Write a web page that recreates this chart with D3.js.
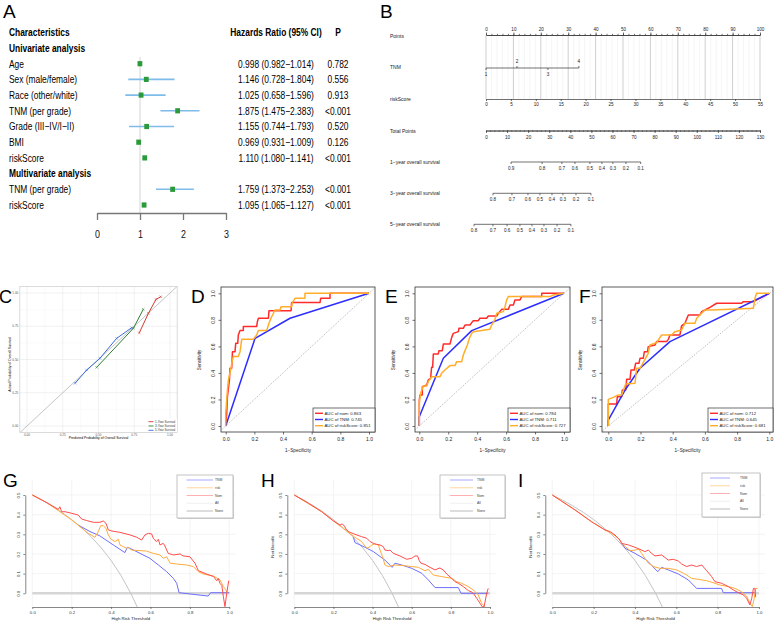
<!DOCTYPE html>
<html><head><meta charset="utf-8">
<script src="https://cdn.jsdelivr.net/npm/d3@7/dist/d3.min.js"></script>
<style>html,body{margin:0;padding:0;background:#fff;}</style>
</head><body>
<svg id="chart" width="777" height="621" xmlns="http://www.w3.org/2000/svg"></svg>
<script>
// ================= DATA =================
// Panel A: forest plot
const forestSections = ["Univariate analysis", "Multivariate analysis"];
const forestRows = ["Age","Sex (male/female)","Race (other/white)","TNM (per grade)","Grade (III\u2212IV/I\u2212II)","BMI","riskScore","TNM (per grade)","riskScore"];
const forestHR = [0.998,1.146,1.025,1.875,1.155,0.969,1.110,1.759,1.095];
const forestLo = [0.982,0.728,0.658,1.475,0.744,0.931,1.080,1.373,1.065];
const forestHi = [1.014,1.804,1.596,2.383,1.793,1.009,1.141,2.253,1.127];
const forestP = ["0.782","0.556","0.913","<0.001","0.520","0.126","<0.001","<0.001","<0.001"];
const forestTicks = [0,1,2,3];

// Panel B: nomogram
const nomoRows = ["Points","TNM","riskScore","Total Points","1\u2212year overall survival","3\u2212year overall survival","5\u2212year overall survival"];
const pointsTicks = d3.range(0,101,10);
const tnmLevels = ["1","2","3","4"];
const tnmPoints = [0,11.3,22.6,33.9];
const riskScoreTicks = d3.range(0,56,5);
const totalTicks = d3.range(0,131,10);
const surv1Labels = ["0.9","0.8","0.7","0.6","0.5","0.4","0.3","0.2","0.1"];
const surv1Total  = [11.9,26.6,36.0,42.2,49.3,55.0,60.2,66.4,73.4];
const surv3Labels = ["0.8","0.7","0.6","0.5","0.4","0.3","0.2","0.1"];
const surv3Total  = [3.3,12.3,19.9,25.6,31.3,36.5,42.7,49.8];
const surv5Labels = ["0.8","0.7","0.6","0.5","0.4","0.3","0.2","0.1"];
const surv5Total  = [-5.7,3.3,10.0,16.1,21.8,27.5,33.7,40.3];

// Panel C: calibration
const calTicks = [0,0.25,0.5,0.75,1];
const cal1Pred = [0.785,0.849,0.902,0.935], cal1Obs = [0.700,0.847,0.952,0.972];
const cal3Pred = [0.487,0.744,0.813],       cal3Obs = [0.441,0.735,0.877];
const cal5Pred = [0.336,0.417,0.510,0.627,0.732], cal5Obs = [0.321,0.421,0.509,0.659,0.739];
const calLegend = ["1-Year Survival","3-Year Survival","5-Year Survival"];

// Panels D-F: ROC curves [1-specificity, sensitivity]
const rocTicks = [0,0.2,0.4,0.6,0.8,1.0];
const rocD_nom = [[0,0],[0.007,0.095],[0.012,0.221],[0.019,0.284],[0.026,0.347],[0.030,0.435],[0.042,0.435],[0.047,0.560],[0.065,0.560],[0.070,0.623],[0.084,0.623],[0.088,0.686],[0.100,0.719],[0.123,0.719],[0.123,0.749],[0.216,0.749],[0.221,0.786],[0.228,0.812],[0.298,0.812],[0.302,0.869],[0.456,0.869],[0.460,0.930],[0.658,0.930],[0.663,0.962],[0.728,0.962],[0.728,1],[1,1]];
const rocD_tnm = [[0,0],[0.205,0.661],[0.449,0.812],[1,1]];
const rocD_risk = [[0,0],[0,0.095],[0.007,0.196],[0.012,0.271],[0.019,0.347],[0.037,0.435],[0.042,0.472],[0.053,0.523],[0.088,0.523],[0.100,0.560],[0.112,0.653],[0.193,0.653],[0.216,0.686],[0.228,0.719],[0.286,0.719],[0.302,0.774],[0.316,0.812],[0.344,0.874],[0.379,0.874],[0.386,0.899],[0.460,0.899],[0.465,0.930],[0.484,0.962],[0.553,0.962],[0.553,1],[1,1]];
const rocE_nom = [[0,0],[0,0.196],[0.005,0.234],[0.021,0.234],[0.021,0.296],[0.051,0.309],[0.062,0.347],[0.078,0.359],[0.085,0.442],[0.092,0.442],[0.097,0.543],[0.131,0.543],[0.136,0.568],[0.159,0.568],[0.166,0.618],[0.212,0.618],[0.224,0.668],[0.235,0.698],[0.270,0.711],[0.274,0.736],[0.304,0.736],[0.316,0.761],[0.350,0.761],[0.373,0.794],[0.408,0.794],[0.419,0.812],[0.465,0.812],[0.477,0.829],[0.535,0.829],[0.546,0.849],[0.569,0.879],[0.615,0.879],[0.627,0.912],[0.650,0.912],[0.661,0.950],[0.696,0.950],[0.707,0.975],[0.846,0.975],[0.846,1],[1,1]];
const rocE_tnm = [[0,0],[0,0.07],[0.166,0.510],[0.362,0.719],[1,1]];
const rocE_risk = [[0,0],[0,0.171],[0.009,0.246],[0.028,0.302],[0.051,0.302],[0.062,0.334],[0.085,0.372],[0.143,0.372],[0.154,0.397],[0.177,0.422],[0.212,0.455],[0.247,0.455],[0.258,0.485],[0.293,0.485],[0.304,0.535],[0.316,0.568],[0.332,0.611],[0.346,0.661],[0.362,0.698],[0.373,0.711],[0.488,0.729],[0.500,0.761],[0.523,0.804],[0.535,0.849],[0.581,0.862],[0.592,0.899],[0.604,0.950],[0.615,0.975],[0.903,0.975],[0.926,0.987],[1,1]];
const rocF_nom = [[0,0],[0,0.166],[0.052,0.166],[0.056,0.221],[0.083,0.221],[0.087,0.271],[0.108,0.271],[0.114,0.352],[0.135,0.352],[0.141,0.422],[0.161,0.422],[0.170,0.472],[0.190,0.472],[0.197,0.510],[0.217,0.510],[0.224,0.560],[0.244,0.560],[0.248,0.598],[0.290,0.611],[0.300,0.636],[0.362,0.636],[0.373,0.653],[0.383,0.686],[0.445,0.686],[0.455,0.754],[0.476,0.774],[0.497,0.837],[0.569,0.837],[0.580,0.862],[0.600,0.874],[0.631,0.894],[0.673,0.925],[0.828,0.925],[0.839,0.937],[0.901,0.937],[1,1]];
const rocF_tnm = [[0,0],[0,0.045],[0.104,0.271],[0.197,0.435],[0.383,0.636],[1,1]];
const rocF_risk = [[0,0],[0,0.201],[0.031,0.216],[0.062,0.234],[0.083,0.234],[0.108,0.317],[0.166,0.322],[0.176,0.435],[0.197,0.435],[0.248,0.548],[0.259,0.611],[0.300,0.628],[0.331,0.686],[0.393,0.686],[0.414,0.711],[0.455,0.724],[0.476,0.774],[0.538,0.774],[0.549,0.812],[0.569,0.837],[0.600,0.874],[0.642,0.874],[0.901,0.887],[0.911,0.962],[0.921,1],[1,1]];
const aucD = ["0.863","0.745","0.851"];
const aucE = ["0.784","0.711","0.727"];
const aucF = ["0.712","0.645","0.681"];
const rocNames = ["nom","TNM","riskScore"];

// Panels G-I: decision curves [threshold, net benefit]
const dcaXTicks = [0,0.2,0.4,0.6,0.8,1.0];
const dcaYTicks = [0,0.1,0.2,0.3,0.4,0.5];
const dcaLegend = ["TNM","risk","Nom","All","None"];
const dcaAll = [[0,0.5],[0.05,0.474],[0.1,0.444],[0.15,0.412],[0.2,0.375],[0.25,0.333],[0.3,0.286],[0.35,0.231],[0.4,0.167],[0.45,0.091],[0.5,0.0],[0.535,-0.075]];
const dcaNone = [[0,0],[1,0]];
const gNom = [[0,0.5],[0.07,0.463],[0.132,0.427],[0.14,0.44],[0.149,0.415],[0.166,0.415],[0.2,0.407],[0.233,0.398],[0.25,0.378],[0.276,0.37],[0.31,0.361],[0.343,0.361],[0.36,0.368],[0.374,0.356],[0.386,0.322],[0.403,0.317],[0.445,0.31],[0.496,0.297],[0.53,0.285],[0.555,0.271],[0.572,0.297],[0.589,0.305],[0.606,0.302],[0.614,0.28],[0.63,0.263],[0.64,0.275],[0.648,0.246],[0.665,0.254],[0.673,0.241],[0.69,0.203],[0.716,0.195],[0.75,0.2],[0.766,0.19],[0.8,0.186],[0.826,0.153],[0.843,0.115],[0.885,0.098],[0.92,0.085],[0.936,0.064],[0.944,0.075],[0.953,0.05],[0.962,0.04],[0.97,-0.017],[0.978,-0.068],[0.987,0],[0.997,0.064]];
const gRisk = [[0,0.5],[0.07,0.463],[0.14,0.415],[0.2,0.373],[0.242,0.339],[0.284,0.305],[0.318,0.285],[0.335,0.314],[0.347,0.344],[0.36,0.344],[0.374,0.33],[0.386,0.297],[0.4,0.275],[0.42,0.263],[0.437,0.275],[0.445,0.246],[0.462,0.237],[0.479,0.229],[0.487,0.234],[0.504,0.22],[0.547,0.217],[0.58,0.215],[0.614,0.203],[0.648,0.195],[0.665,0.178],[0.682,0.186],[0.7,0.153],[0.733,0.149],[0.783,0.144],[0.817,0.136],[0.843,0.11],[0.868,0.098],[0.919,0.088],[0.953,0.068],[0.97,0.034],[0.983,0.017],[0.99,0]];
const gTnm = [[0.233,0.347],[0.293,0.314],[0.343,0.292],[0.411,0.246],[0.47,0.207],[0.482,0.234],[0.504,0.225],[0.547,0.203],[0.597,0.178],[0.64,0.144],[0.682,0.11],[0.716,0.076],[0.733,0.051],[0.745,0.003],[0.893,-0.014],[0.905,0.003],[1,0.003]];
const hNom = [[0,0.5],[0.072,0.458],[0.14,0.415],[0.2,0.368],[0.233,0.347],[0.245,0.353],[0.256,0.342],[0.267,0.322],[0.284,0.31],[0.31,0.3],[0.344,0.288],[0.37,0.28],[0.387,0.263],[0.404,0.254],[0.42,0.249],[0.438,0.246],[0.455,0.237],[0.463,0.22],[0.48,0.217],[0.489,0.22],[0.506,0.203],[0.54,0.19],[0.574,0.173],[0.6,0.178],[0.617,0.19],[0.63,0.19],[0.637,0.169],[0.647,0.153],[0.668,0.147],[0.693,0.132],[0.719,0.119],[0.744,0.129],[0.761,0.119],[0.779,0.098],[0.804,0.076],[0.821,0.059],[0.838,0.051],[0.864,0.034],[0.889,0.014],[0.903,0.008],[0.915,0],[0.932,-0.025],[0.949,-0.051],[0.96,-0.068],[0.97,-0.068],[0.983,0],[0.991,0.025]];
const hRisk = [[0,0.5],[0.14,0.415],[0.2,0.368],[0.26,0.322],[0.31,0.285],[0.344,0.263],[0.37,0.229],[0.387,0.237],[0.395,0.246],[0.412,0.251],[0.43,0.246],[0.438,0.22],[0.451,0.186],[0.463,0.144],[0.48,0.136],[0.514,0.144],[0.557,0.141],[0.6,0.136],[0.634,0.132],[0.668,0.115],[0.685,0.122],[0.71,0.093],[0.753,0.085],[0.804,0.076],[0.83,0.059],[0.855,0.051],[0.889,0.034],[0.915,0.017],[0.94,-0.008],[0.957,-0.051],[0.974,-0.068]];
const hTnm = [[0.302,0.285],[0.31,0.258],[0.361,0.234],[0.404,0.212],[0.463,0.169],[0.5,0.132],[0.514,0.153],[0.549,0.144],[0.6,0.127],[0.651,0.102],[0.685,0.068],[0.719,0.029],[0.838,0.029],[0.852,0],[0.991,0]];
const iNom = [[0,0.5],[0.11,0.424],[0.19,0.364],[0.255,0.322],[0.279,0.314],[0.303,0.297],[0.327,0.271],[0.335,0.254],[0.368,0.246],[0.4,0.234],[0.432,0.22],[0.448,0.212],[0.465,0.22],[0.48,0.203],[0.497,0.19],[0.529,0.195],[0.561,0.169],[0.585,0.173],[0.61,0.164],[0.626,0.149],[0.65,0.136],[0.674,0.144],[0.698,0.136],[0.723,0.144],[0.747,0.115],[0.771,0.085],[0.787,0.059],[0.819,0.051],[0.852,0.034],[0.876,0.017],[0.9,0.003],[0.924,-0.008],[0.94,-0.025],[0.956,-0.059],[0.965,-0.025],[0.973,0.025],[0.98,0.025],[0.984,-0.02]];
const iRisk = [[0,0.5],[0.11,0.424],[0.19,0.364],[0.255,0.322],[0.287,0.305],[0.319,0.28],[0.344,0.246],[0.376,0.217],[0.4,0.22],[0.419,0.224],[0.432,0.203],[0.448,0.178],[0.465,0.153],[0.489,0.136],[0.521,0.127],[0.561,0.127],[0.602,0.119],[0.634,0.102],[0.65,0.093],[0.674,0.076],[0.706,0.071],[0.747,0.064],[0.787,0.051],[0.811,0.042],[0.852,0.034],[0.884,0.025],[0.916,0.008],[0.94,-0.014],[0.956,-0.051],[0.968,-0.068],[0.977,-0.025],[0.984,0.025],[0.994,0.025]];
const iTnm = [[0.332,0.263],[0.352,0.229],[0.4,0.203],[0.456,0.169],[0.51,0.11],[0.529,0.132],[0.561,0.119],[0.61,0.098],[0.658,0.068],[0.698,0.025],[0.819,0.025],[0.827,0.003],[0.98,0.003]];

// ================= DRAWING =================
const FONT = '"Liberation Sans", Arial, Helvetica, sans-serif';
const svg = d3.select("#chart");
svg.append("rect").attr("width",777).attr("height",621).attr("fill","#fff");
const defs = svg.append("defs");

function T(sel, x, y, str, o = {}) {
  let tr = `translate(${x},${y})`;
  if (o.rot) tr += ` rotate(${o.rot})`;
  if (o.sx) tr += ` scale(${o.sx},1)`;
  return sel.append("text").attr("transform", tr)
    .attr("font-family", FONT).attr("font-size", o.fs || 10)
    .attr("fill", o.fill || "#000").attr("font-weight", o.fw || "normal")
    .attr("text-anchor", o.anchor || "start")
    .attr("dominant-baseline", o.db || "central")
    .text(str);
}
function styleAxis(g, fs, col, tcol) {
  g.selectAll("path.domain").attr("stroke", col).attr("stroke-width", 0.7);
  g.selectAll(".tick line").attr("stroke", col).attr("stroke-width", 0.7);
  g.selectAll(".tick text").attr("font-size", fs).attr("font-family", FONT).attr("fill", tcol || "#222");
}

// ---- Panel letters ----
[["A",3,18,19],["B",380,18,19],["C",-1,303,18],["D",191,303,19],["E",385,303,19],["F",579,303,19],["G",3,487,19],["H",261,487,19],["I",518,487,19]]
  .forEach(([s,x,y,fs]) => T(svg, x, y, s, {fs:fs, db:"alphabetic"}));

// ---- Panel A ----
(function(){
  const g = svg.append("g");
  const rowY = d3.scalePoint().domain(d3.range(12)).range([32.3, 205]);
  const idx = [2,3,4,5,6,7,8,10,11];
  const fx = d3.scaleLinear().domain([0,3]).range([97,226]);
  const AT = {sx:0.8, fs:10.5};
  T(g, 9, rowY(0), "Characteristics", {...AT, fw:"bold"});
  T(g, 9, rowY(1), forestSections[0], {...AT, fw:"bold"});
  T(g, 9, rowY(9), forestSections[1], {...AT, fw:"bold"});
  T(g, 276, rowY(0), "Hazards Ratio (95% CI)", {...AT, fw:"bold", anchor:"middle"});
  T(g, 338, rowY(0), "P", {...AT, fw:"bold", anchor:"middle"});
  g.append("line").attr("x1", fx(1)).attr("x2", fx(1)).attr("y1", 57).attr("y2", 213)
    .attr("stroke", "#d4d4d4").attr("stroke-width", 1);
  const f3 = d3.format(".3f");
  forestRows.forEach((r, i) => {
    const y = rowY(idx[i]);
    T(g, 9, y, r, AT);
    g.append("line").attr("x1", fx(forestLo[i])).attr("x2", fx(forestHi[i])).attr("y1", y).attr("y2", y)
      .attr("stroke", "#7fbcea").attr("stroke-width", 1.6);
    g.append("rect").attr("x", fx(forestHR[i]) - 2.4).attr("y", y - 2.6).attr("width", 4.8).attr("height", 5.2)
      .attr("fill", "#2b9a3b");
    T(g, 276, y, `${f3(forestHR[i])} (${f3(forestLo[i])}\u2212${f3(forestHi[i])})`, {...AT, anchor:"middle"});
    T(g, 338, y, forestP[i], {...AT, anchor:"middle"});
  });
  const ax = g.append("g").attr("transform", "translate(0,213)")
    .call(d3.axisBottom(fx).tickValues(forestTicks).tickFormat(d3.format("d")).tickSize(7).tickSizeOuter(0).tickPadding(11));
  ax.selectAll("path.domain").attr("stroke", "#777").attr("stroke-width", 1.3);
  ax.selectAll(".tick line").attr("stroke", "#777").attr("stroke-width", 1.3);
  ax.selectAll(".tick text").attr("font-size", 10.5).attr("font-family", FONT).attr("fill", "#111")
    .attr("transform", "scale(0.85,1)");
})();

// ---- Panel B: nomogram ----
(function(){
  const g = svg.append("g");
  const px = d3.scaleLinear().domain([0,100]).range([486,760]);
  const tx = d3.scaleLinear().domain([0,130]).range([486,760]);
  const rx = d3.scaleLinear().domain([0,55]).range([486,760]);
  const rowYs = [36, 67, 99, 130.5, 162, 193.3, 224.3];
  const FS = 4.6, col = "#333";
  nomoRows.forEach((r,i) => T(g, 390, rowYs[i], r, {fs:5, fill:"#222"}));
  // grid
  d3.range(0,101,2).forEach(v => {
    g.append("line").attr("x1", px(v)).attr("x2", px(v)).attr("y1", 35).attr("y2", 99)
      .attr("stroke", v % 10 === 0 ? "#cfcfcf" : "#efefef").attr("stroke-width", v % 10 === 0 ? 1 : 0.6);
  });
  // Points
  const a1 = g.append("g").attr("transform","translate(0,35)")
    .call(d3.axisTop(px).tickValues(pointsTicks).tickSize(2.5).tickSizeOuter(0).tickPadding(2));
  styleAxis(a1, FS, col);
  const a1m = g.append("g").attr("transform","translate(0,35)")
    .call(d3.axisTop(px).tickValues(d3.range(0,101,2)).tickSize(1.2).tickSizeOuter(0).tickFormat(""));
  styleAxis(a1m, FS, col);
  // TNM
  g.append("line").attr("x1", px(tnmPoints[0])).attr("x2", px(tnmPoints[3])).attr("y1", 68).attr("y2", 68)
    .attr("stroke", col).attr("stroke-width", 0.7);
  tnmLevels.forEach((lv, i) => {
    const up = (i % 2 === 1);
    const x = px(tnmPoints[i]);
    g.append("line").attr("x1", x).attr("x2", x).attr("y1", 68).attr("y2", up ? 66 : 70).attr("stroke", col).attr("stroke-width", 0.7);
    T(g, x, up ? 61.5 : 74.5, lv, {fs:FS, anchor:"middle", fill:"#222"});
  });
  // riskScore
  const a2 = g.append("g").attr("transform","translate(0,99)")
    .call(d3.axisBottom(rx).tickValues(riskScoreTicks).tickSize(2).tickSizeOuter(0).tickPadding(2));
  styleAxis(a2, FS, col);
  // Total points
  const a3 = g.append("g").attr("transform","translate(0,130.5)")
    .call(d3.axisBottom(tx).tickValues(totalTicks).tickSize(2.5).tickSizeOuter(0).tickPadding(3));
  styleAxis(a3, FS, col);
  const a3m = g.append("g").attr("transform","translate(0,130.5)")
    .call(d3.axisBottom(tx).tickValues(d3.range(0,131,2)).tickSize(1.2).tickSizeOuter(0).tickFormat(""));
  styleAxis(a3m, FS, col);
  // survival axes
  [[surv1Total, surv1Labels, 162],[surv3Total, surv3Labels, 193.3],[surv5Total, surv5Labels, 224.3]].forEach(([tv, lb, y]) => {
    g.append("line").attr("x1", tx(tv[0])).attr("x2", tx(tv[tv.length-1])).attr("y1", y).attr("y2", y)
      .attr("stroke", col).attr("stroke-width", 0.7);
    tv.forEach((v, i) => {
      g.append("line").attr("x1", tx(v)).attr("x2", tx(v)).attr("y1", y).attr("y2", y + 2).attr("stroke", col).attr("stroke-width", 0.7);
      T(g, tx(v), y + 6.5, lb[i], {fs:FS, anchor:"middle", fill:"#222"});
    });
  });
})();

// ---- Panel C: calibration ----
(function(){
  const g = svg.append("g");
  const cx = d3.scaleLinear().domain([0,1]).range([27,170]);
  const cy = d3.scaleLinear().domain([0,1]).range([426,293]);
  const L = cx(-0.05), R = cx(1.05), Tp = cy(1.05), B = cy(-0.05);
  defs.append("clipPath").attr("id","clipC").append("rect").attr("x",L).attr("y",Tp).attr("width",R-L).attr("height",B-Tp);
  g.append("rect").attr("x",L).attr("y",Tp).attr("width",R-L).attr("height",B-Tp).attr("fill","#fff");
  [0.125,0.375,0.625,0.875].forEach(v => {
    g.append("line").attr("x1",cx(v)).attr("x2",cx(v)).attr("y1",Tp).attr("y2",B).attr("stroke","#f3f3f3").attr("stroke-width",0.4);
    g.append("line").attr("y1",cy(v)).attr("y2",cy(v)).attr("x1",L).attr("x2",R).attr("stroke","#f3f3f3").attr("stroke-width",0.4);
  });
  calTicks.forEach(v => {
    g.append("line").attr("x1",cx(v)).attr("x2",cx(v)).attr("y1",Tp).attr("y2",B).attr("stroke","#e8e8e8").attr("stroke-width",0.6);
    g.append("line").attr("y1",cy(v)).attr("y2",cy(v)).attr("x1",L).attr("x2",R).attr("stroke","#e8e8e8").attr("stroke-width",0.6);
  });
  g.append("line").attr("clip-path","url(#clipC)").attr("x1",cx(-0.1)).attr("y1",cy(-0.1)).attr("x2",cx(1.1)).attr("y2",cy(1.1))
    .attr("stroke","#bdbdbd").attr("stroke-width",0.9);
  const line = d3.line().x(d => cx(d[0])).y(d => cy(d[1]));
  const sym = d3.symbol().type(d3.symbolX).size(5);
  [[cal1Pred,cal1Obs,"#cf3b35"],[cal3Pred,cal3Obs,"#2f7f33"],[cal5Pred,cal5Obs,"#3a6ad8"]].forEach(([p,o,c]) => {
    const pts = p.map((v,i) => [v, o[i]]);
    g.append("path").attr("d", line(pts)).attr("fill","none").attr("stroke",c).attr("stroke-width",1);
    pts.forEach(d => g.append("path").attr("d", sym()).attr("transform",`translate(${cx(d[0])},${cy(d[1])})`)
      .attr("stroke",c).attr("stroke-width",0.5).attr("fill","none"));
  });
  g.append("rect").attr("x",L).attr("y",Tp).attr("width",R-L).attr("height",B-Tp).attr("fill","none").attr("stroke","#c4c4c4").attr("stroke-width",0.6);
  const fmt = d3.format(".2f");
  calTicks.forEach(v => {
    T(g, L - 1.5, cy(v), fmt(v), {fs:3.1, anchor:"end", fill:"#555"});
    T(g, cx(v), B + 2.5, fmt(v), {fs:3.1, anchor:"middle", fill:"#555"});
  });
  T(g, (L+R)/2, B + 5.5, "Predicted Probability of Overall Survival", {fs:3.4, anchor:"middle"});
  T(g, 9.5, (Tp+B)/2 + 5, "Actual Probability of Overall Survival", {fs:3.4, anchor:"middle", rot:-90});
  // legend
  g.append("rect").attr("x",147).attr("y",418.5).attr("width",30).attr("height",13).attr("fill","#fff");
  ["#cf3b35","#2f7f33","#3a6ad8"].forEach((c,i) => {
    const y = 421.7 + i * 4.3;
    g.append("line").attr("x1",148.5).attr("x2",153.5).attr("y1",y).attr("y2",y).attr("stroke",c).attr("stroke-width",0.9);
    T(g, 155, y, calLegend[i], {fs:3, fill:"#333"});
  });
})();

// ---- Panels D-F: ROC ----
function drawROC(p, curves, aucs) {
  const g = svg.append("g");
  const xs = d3.scaleLinear().domain([0,1]).range([p.x0, p.x1]);
  const ys = d3.scaleLinear().domain([0,1]).range([426, 293.3]);
  const top = 287, bot = 432;
  defs.append("clipPath").attr("id","clip"+p.id).append("rect").attr("x",p.l).attr("y",top).attr("width",p.r-p.l).attr("height",bot-top);
  g.append("line").attr("clip-path",`url(#clip${p.id})`).attr("x1",xs(-0.1)).attr("y1",ys(-0.1)).attr("x2",xs(1.1)).attr("y2",ys(1.1))
    .attr("stroke","#8c8c8c").attr("stroke-width",0.6).attr("stroke-dasharray","1.2,1.2");
  const line = d3.line().x(d => xs(d[0])).y(d => ys(d[1]));
  curves.forEach(c => g.append("path").attr("clip-path",`url(#clip${p.id})`).attr("d", line(c.data)).attr("fill","none")
    .attr("stroke", c.color).attr("stroke-width", 1.5).attr("stroke-linejoin","round"));
  g.append("rect").attr("x",p.l).attr("y",top).attr("width",p.r-p.l).attr("height",bot-top).attr("fill","none")
    .attr("stroke","#333").attr("stroke-width",0.8);
  const ax = g.append("g").attr("transform",`translate(0,${bot})`)
    .call(d3.axisBottom(xs).tickValues(rocTicks).tickFormat(d3.format(".1f")).tickSize(2.5).tickSizeOuter(0).tickPadding(2.5));
  styleAxis(ax, 5, "#333");
  ax.select("path.domain").remove();
  const ay = g.append("g").attr("transform",`translate(${p.l},0)`)
    .call(d3.axisLeft(ys).tickValues(rocTicks).tickFormat(d3.format(".1f")).tickSize(2.5).tickSizeOuter(0));
  styleAxis(ay, 5, "#333");
  ay.select("path.domain").remove();
  ay.selectAll(".tick text").attr("x", null).attr("dy", null).attr("text-anchor","middle")
    .attr("transform","translate(-6.5,0) rotate(-90)");
  T(g, (p.l + p.r)/2, 450, "1\u2212Specificity", {fs:4.6, anchor:"middle", fill:"#222"});
  T(g, p.l - 22, 360, "Sensitivity", {fs:4.6, anchor:"middle", rot:-90, fill:"#222"});
  // legend
  const lw = p.lw, lx = p.r - lw, ly = 408;
  g.append("rect").attr("x",lx).attr("y",ly).attr("width",lw).attr("height",bot-ly).attr("fill","#fff").attr("stroke","#333").attr("stroke-width",0.7);
  curves.forEach((c,i) => {
    const y = ly + 5.3 + i * 6.2;
    g.append("line").attr("x1",lx+2).attr("x2",lx+10).attr("y1",y).attr("y2",y).attr("stroke",c.color).attr("stroke-width",1.4);
    T(g, lx + 11.5, y, `AUC of ${rocNames[i]}:  ${aucs[i]}`, {fs:4.3, fill:"#222"});
  });
}
const rocCols = ["#ff2b2b","#2d2dff","#ffae2a"];
drawROC({id:"D", x0:225.7, x1:369, l:221, r:375, lw:62}, [{data:rocD_nom,color:rocCols[0]},{data:rocD_tnm,color:rocCols[1]},{data:rocD_risk,color:rocCols[2]}], aucD);
drawROC({id:"E", x0:419.3, x1:564, l:415, r:570, lw:62}, [{data:rocE_nom,color:rocCols[0]},{data:rocE_tnm,color:rocCols[1]},{data:rocE_risk,color:rocCols[2]}], aucE);
drawROC({id:"F", x0:608.3, x1:769.3, l:602, r:773, lw:65}, [{data:rocF_nom,color:rocCols[0]},{data:rocF_tnm,color:rocCols[1]},{data:rocF_risk,color:rocCols[2]}], aucF);

// ---- Panels G-I: DCA ----
function drawDCA(p, nom, risk, tnm) {
  const g = svg.append("g");
  const xs = d3.scaleLinear().domain([0,1]).range([p.x0, p.x1]);
  const ys = d3.scaleLinear().domain([0,0.5]).range([593.3, 495]);
  const top = 480, bot = 607;
  defs.append("clipPath").attr("id","clip"+p.id).append("rect").attr("x",p.x0-3).attr("y",top).attr("width",p.x1-p.x0+8).attr("height",bot-top);
  dcaXTicks.forEach(v => g.append("line").attr("x1",xs(v)).attr("x2",xs(v)).attr("y1",top).attr("y2",bot).attr("stroke","#efefef").attr("stroke-width",0.7));
  dcaYTicks.forEach(v => g.append("line").attr("x1",p.x0).attr("x2",p.x1+6).attr("y1",ys(v)).attr("y2",ys(v)).attr("stroke","#efefef").attr("stroke-width",0.7));
  const line = d3.line().x(d => xs(d[0])).y(d => ys(d[1]));
  const cp = `url(#clip${p.id})`;
  g.append("path").attr("clip-path",cp).attr("d",line(dcaNone)).attr("fill","none").attr("stroke","#d6d6d6").attr("stroke-width",2.6);
  g.append("path").attr("clip-path",cp).attr("d",line(dcaAll)).attr("fill","none").attr("stroke","#c4c4c4").attr("stroke-width",1);
  g.append("path").attr("clip-path",cp).attr("d",line(tnm)).attr("fill","none").attr("stroke","#6e6eff").attr("stroke-width",1);
  g.append("path").attr("clip-path",cp).attr("d",line(risk)).attr("fill","none").attr("stroke","#ffab3d").attr("stroke-width",1);
  g.append("path").attr("clip-path",cp).attr("d",line(nom)).attr("fill","none").attr("stroke","#ff4c4c").attr("stroke-width",1);
  const ax = g.append("g").attr("transform",`translate(0,${bot})`)
    .call(d3.axisBottom(xs).tickValues(dcaXTicks).tickFormat(d3.format(".1f")).tickSize(2).tickSizeOuter(0).tickPadding(2));
  styleAxis(ax, 4.3, "#555", "#333");
  const ay = g.append("g").attr("transform",`translate(${p.x0-7},0)`)
    .call(d3.axisLeft(ys).tickValues(dcaYTicks).tickFormat(d3.format(".1f")).tickSize(2).tickSizeOuter(0));
  styleAxis(ay, 4.3, "#555", "#333");
  ay.selectAll(".tick text").attr("x", null).attr("dy", null).attr("text-anchor","middle")
    .attr("transform","translate(-5,0) rotate(-90)");
  T(g, (p.x0+p.x1)/2, 618.5, "High Risk Threshold", {fs:4.3, anchor:"middle", fill:"#222"});
  if (p.ytitle) T(g, p.x0 - 22, 547, "Net Benefit", {fs:4.3, anchor:"middle", rot:-90, fill:"#222"});
  // legend
  const L = p.leg;
  g.append("rect").attr("x",L.x+1).attr("y",L.y+1).attr("width",L.w).attr("height",L.h).attr("fill","#d8d8d8");
  g.append("rect").attr("x",L.x).attr("y",L.y).attr("width",L.w).attr("height",L.h).attr("fill","#fff").attr("stroke","#aaa").attr("stroke-width",0.7);
  const lc = ["#a9a9ff","#ffd8a0","#ffb0b0","#efefef","#cfcfcf"];
  const lwid = [1,1,1,1,1.4];
  dcaLegend.forEach((s,i) => {
    const y = L.y + 5 + i * 7.75;
    g.append("line").attr("x1",L.x+L.l0).attr("x2",L.x+L.l1).attr("y1",y).attr("y2",y).attr("stroke",lc[i]).attr("stroke-width",lwid[i]);
    T(g, L.x + L.tx, y, s, {fs:3.4, fill:"#444"});
  });
}
drawDCA({id:"G", x0:32.3, x1:229.3, ytitle:false, leg:{x:177,y:475,w:56,h:43,l0:9.5,l1:36,tx:38}}, gNom, gRisk, gTnm);
drawDCA({id:"H", x0:294.3, x1:490, ytitle:true, leg:{x:440,y:475,w:65,h:43,l0:10,l1:33,tx:37}}, hNom, hRisk, hTnm);
drawDCA({id:"I", x0:552.3, x1:759, ytitle:true, leg:{x:702,y:473,w:58,h:44,l0:8,l1:28,tx:38}}, iNom, iRisk, iTnm);
</script>
</body></html>
